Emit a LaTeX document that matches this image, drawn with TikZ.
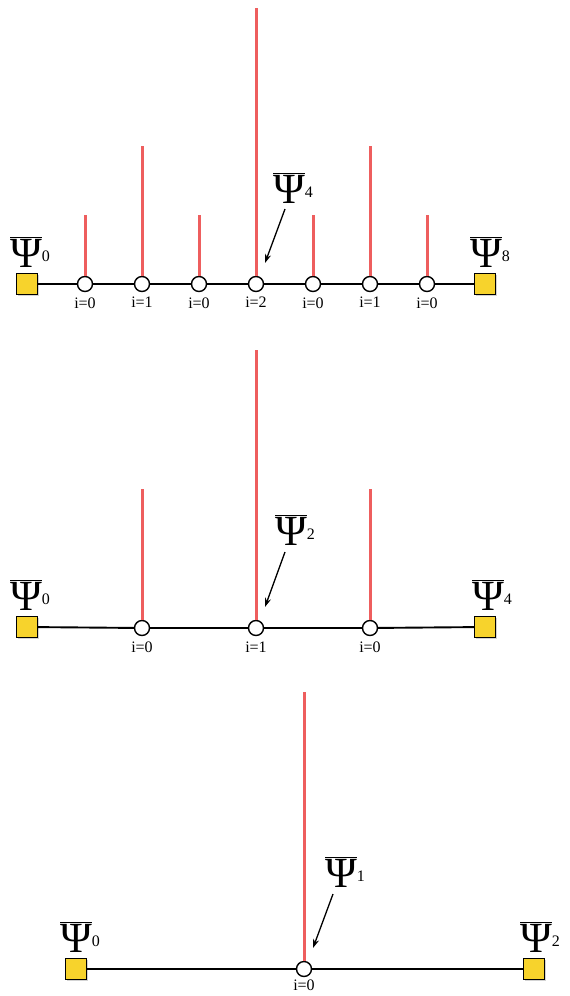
\documentclass[tikz,border=0pt]{standalone}
\usepackage{fontspec}
\setmainfont{Liberation Serif}
\usetikzlibrary{shadows,arrows.meta}
\definecolor{legred}{RGB}{238,94,94}
\definecolor{gold}{RGB}{247,211,44}
\tikzstyle{vertex}=[circle, draw, fill=white, line width=1.4pt, inner sep=0pt, minimum size=15pt]
\tikzstyle{wall}=[rectangle, draw, fill=gold, line width=1.1pt, inner sep=0pt, minimum size=21pt,
    drop shadow={shadow xshift=1.2pt, shadow yshift=-1.2pt, opacity=0.35}]
\tikzstyle{chain}=[line width=1.9pt]
\tikzstyle{leg}=[legred, line width=3pt]
\tikzstyle{pointer}=[line width=1.3pt, -{Stealth[length=9pt, width=6pt]}]
\tikzstyle{psilabel}=[anchor=base west, inner sep=0pt, font=\fontsize{43}{43}\selectfont]
\tikzstyle{ilabel}=[font=\fontsize{16}{16}\selectfont, inner sep=0pt]
\newcommand{\vertex}{\node[vertex]}
\newcommand{\wall}{\node[wall]}
\newcommand{\barpsi}[1]{$\overline{\mbox{Ψ}}$\raisebox{6pt}{\fontsize{16}{16}\selectfont#1}}

\begin{document}
\begin{tikzpicture}[x=1pt, y=-1pt, every label/.append style={label distance=5pt}]
\useasboundingbox (0,0) rectangle (570,996);

% level 2
\wall (a0) at (27,284) {};
\vertex (a1) at (85,284) [label={[ilabel]below:i=0}] {};
\vertex (a2) at (142,284) [label={[ilabel]below:i=1}] {};
\vertex (a3) at (199,284) [label={[ilabel]below:i=0}] {};
\vertex (a4) at (256,284) [label={[ilabel]below:i=2}] {};
\vertex (a5) at (313,284) [label={[ilabel]below:i=0}] {};
\vertex (a6) at (370,284) [label={[ilabel]below:i=1}] {};
\vertex (a7) at (427,284) [label={[ilabel]below:i=0}] {};
\wall (a8) at (485,284) {};
\coordinate (ta1) at (85,215);
\coordinate (ta2) at (142,146);
\coordinate (ta3) at (199,215);
\coordinate (ta4) at (256,8);
\coordinate (ta5) at (313,215);
\coordinate (ta6) at (370,146);
\coordinate (ta7) at (427,215);
\node[psilabel] (psia0) at (10,267) {\barpsi{0}};
\node[psilabel] (psia4) at (273,203) {\barpsi{4}};
\node[psilabel] (psia8) at (470,267) {\barpsi{8}};
\draw[chain] (a0) -- (a1) -- (a2) -- (a3) -- (a4) -- (a5) -- (a6) -- (a7) -- (a8);
\draw[leg] (a1.north) -- (ta1);
\draw[leg] (a2.north) -- (ta2);
\draw[leg] (a3.north) -- (ta3);
\draw[leg] (a4.north) -- (ta4);
\draw[leg] (a5.north) -- (ta5);
\draw[leg] (a6.north) -- (ta6);
\draw[leg] (a7.north) -- (ta7);
\draw[pointer] ([shift={(12,6)}]psia4.base west) -- ([shift={(9,-21)}]a4.center);

% level 1
\wall (b0) at (27,627) {};
\vertex (b1) at (142,628) [label={[ilabel]below:i=0}] {};
\vertex (b2) at (256,628) [label={[ilabel]below:i=1}] {};
\vertex (b3) at (370,628) [label={[ilabel]below:i=0}] {};
\wall (b4) at (485,627) {};
\coordinate (tb1) at (142,489);
\coordinate (tb2) at (256,350);
\coordinate (tb3) at (370,489);
\node[psilabel] (psib0) at (10,610) {\barpsi{0}};
\node[psilabel] (psib2) at (275,545) {\barpsi{2}};
\node[psilabel] (psib4) at (472,610) {\barpsi{4}};
\draw[chain] (b0) -- (b1) -- (b2) -- (b3) -- (b4);
\draw[leg] (b1.north) -- (tb1);
\draw[leg] (b2.north) -- (tb2);
\draw[leg] (b3.north) -- (tb3);
\draw[pointer] ([shift={(10,7)}]psib2.base west) -- ([shift={(9,-21)}]b2.center);

% level 0
\wall (c0) at (76,969) {};
\vertex (c1) at (304,969) [label={[ilabel, label distance=2pt]below:i=0}] {};
\wall (c2) at (534,969) {};
\coordinate (tc1) at (304,692);
\node[psilabel] (psic0) at (60,952) {\barpsi{0}};
\node[psilabel] (psic1) at (325,887) {\barpsi{1}};
\node[psilabel] (psic2) at (520,952) {\barpsi{2}};
\draw[chain] (c0) -- (c1) -- (c2);
\draw[leg] (c1.north) -- (tc1);
\draw[pointer] ([shift={(8,7)}]psic1.base west) -- ([shift={(9,-21)}]c1.center);
\end{tikzpicture}
\end{document}
